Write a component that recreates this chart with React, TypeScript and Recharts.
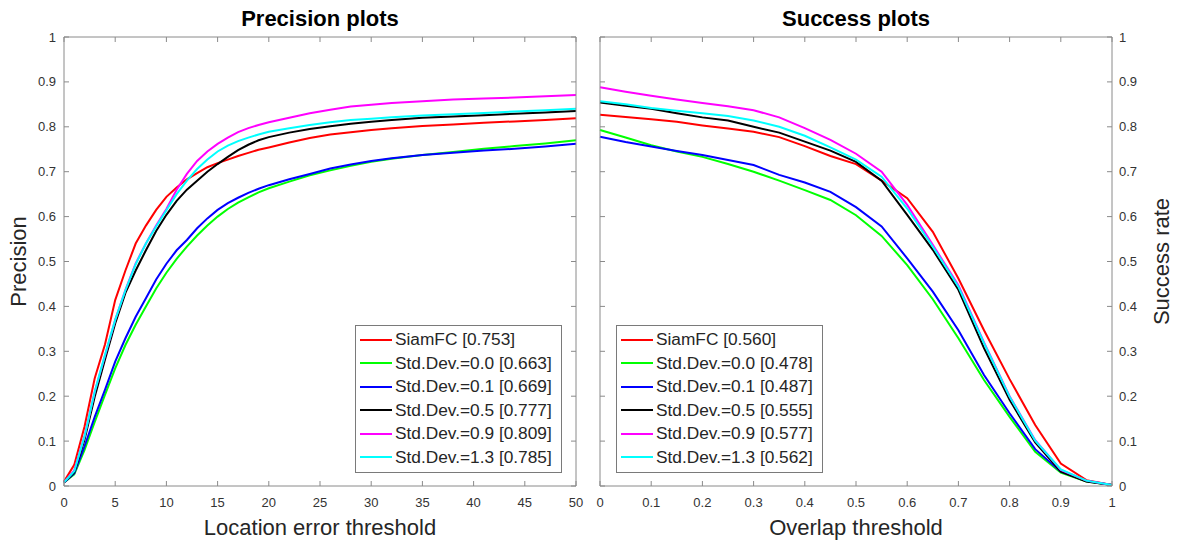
import { LineChart, Line, XAxis, YAxis, Legend, Label } from 'recharts';

const COLORS = ['#ff0000', '#00ff00', '#0000ff', '#000000', '#ff00ff', '#00ffff'];
const KEYS = ['siamfc', 'sd00', 'sd01', 'sd05', 'sd09', 'sd13'];

const PREC_NAMES = [
  'SiamFC [0.753]',
  'Std.Dev.=0.0 [0.663]',
  'Std.Dev.=0.1 [0.669]',
  'Std.Dev.=0.5 [0.777]',
  'Std.Dev.=0.9 [0.809]',
  'Std.Dev.=1.3 [0.785]',
];
const SUCC_NAMES = [
  'SiamFC [0.560]',
  'Std.Dev.=0.0 [0.478]',
  'Std.Dev.=0.1 [0.487]',
  'Std.Dev.=0.5 [0.555]',
  'Std.Dev.=0.9 [0.577]',
  'Std.Dev.=1.3 [0.562]',
];

// precision plot: location error threshold (px)
const PREC_X = [0, 1, 2, 3, 4, 5, 6, 7, 8, 9, 10, 11, 12, 13, 14, 15, 16, 17, 18, 19, 20, 22, 24, 26, 28, 30, 32, 35, 38, 41, 44, 47, 50];
const precSiamFC = [0.01, 0.047, 0.132, 0.24, 0.315, 0.414, 0.48, 0.54, 0.58, 0.615, 0.644, 0.665, 0.683, 0.697, 0.71, 0.719, 0.727, 0.735, 0.742, 0.749, 0.754, 0.765, 0.775, 0.783, 0.788, 0.793, 0.797, 0.802, 0.805, 0.809, 0.812, 0.815, 0.819];
const precSd00 = [0.008, 0.026, 0.08, 0.143, 0.203, 0.262, 0.314, 0.359, 0.4, 0.44, 0.475, 0.506, 0.533, 0.558, 0.58, 0.6, 0.617, 0.631, 0.643, 0.654, 0.663, 0.678, 0.692, 0.703, 0.713, 0.722, 0.729, 0.737, 0.744, 0.751, 0.757, 0.763, 0.77];
const precSd01 = [0.008, 0.028, 0.088, 0.154, 0.214, 0.277, 0.329, 0.377, 0.418, 0.46, 0.495, 0.525, 0.548, 0.574, 0.596, 0.615, 0.63, 0.642, 0.653, 0.662, 0.67, 0.683, 0.695, 0.707, 0.716, 0.724, 0.73, 0.737, 0.742, 0.747, 0.751, 0.756, 0.762];
const precSd05 = [0.008, 0.03, 0.103, 0.199, 0.281, 0.362, 0.43, 0.48, 0.525, 0.568, 0.604, 0.635, 0.66, 0.68, 0.7, 0.717, 0.733, 0.748, 0.76, 0.77, 0.777, 0.787, 0.795, 0.801, 0.807, 0.811, 0.815, 0.82, 0.823, 0.826, 0.829, 0.832, 0.835];
const precSd09 = [0.008, 0.035, 0.11, 0.21, 0.29, 0.37, 0.437, 0.496, 0.54, 0.58, 0.617, 0.66, 0.695, 0.724, 0.745, 0.762, 0.776, 0.788, 0.797, 0.804, 0.81, 0.82, 0.83, 0.838, 0.845, 0.849, 0.853, 0.857, 0.861, 0.863, 0.865, 0.868, 0.871];
const precSd13 = [0.008, 0.033, 0.11, 0.21, 0.292, 0.37, 0.436, 0.494, 0.54, 0.578, 0.614, 0.65, 0.68, 0.706, 0.727, 0.745, 0.758, 0.768, 0.776, 0.783, 0.789, 0.797, 0.804, 0.81, 0.815, 0.818, 0.821, 0.825, 0.828, 0.831, 0.834, 0.837, 0.84];

// success plot: overlap threshold
const SUCC_X = [0, 0.05, 0.1, 0.15, 0.2, 0.25, 0.3, 0.35, 0.4, 0.45, 0.5, 0.55, 0.6, 0.65, 0.7, 0.75, 0.8, 0.85, 0.9, 0.95, 1];
const succSiamFC = [0.827, 0.822, 0.817, 0.811, 0.803, 0.796, 0.789, 0.777, 0.757, 0.735, 0.717, 0.68, 0.641, 0.566, 0.462, 0.347, 0.238, 0.136, 0.05, 0.013, 0.002];
const succSd00 = [0.793, 0.776, 0.759, 0.745, 0.733, 0.717, 0.7, 0.68, 0.659, 0.637, 0.603, 0.557, 0.492, 0.416, 0.329, 0.236, 0.154, 0.076, 0.03, 0.01, 0.002];
const succSd01 = [0.778, 0.766, 0.756, 0.746, 0.737, 0.726, 0.715, 0.693, 0.676, 0.655, 0.621, 0.578, 0.507, 0.433, 0.347, 0.247, 0.162, 0.082, 0.032, 0.011, 0.002];
const succSd05 = [0.854, 0.847, 0.84, 0.83, 0.821, 0.814, 0.8, 0.787, 0.767, 0.747, 0.722, 0.68, 0.604, 0.526, 0.437, 0.307, 0.192, 0.097, 0.032, 0.01, 0.002];
const succSd09 = [0.888, 0.878, 0.869, 0.861, 0.853, 0.846, 0.837, 0.821, 0.797, 0.771, 0.74, 0.7, 0.626, 0.537, 0.447, 0.32, 0.2, 0.102, 0.036, 0.012, 0.002];
const succSd13 = [0.857, 0.85, 0.842, 0.836, 0.83, 0.824, 0.814, 0.8, 0.78, 0.754, 0.727, 0.689, 0.618, 0.533, 0.444, 0.318, 0.199, 0.101, 0.037, 0.012, 0.002];

const PREC_X_TICKS = [0, 5, 10, 15, 20, 25, 30, 35, 40, 45, 50];
const SUCC_X_TICKS = [0, 0.1, 0.2, 0.3, 0.4, 0.5, 0.6, 0.7, 0.8, 0.9, 1];
const Y_TICKS = [0, 0.1, 0.2, 0.3, 0.4, 0.5, 0.6, 0.7, 0.8, 0.9, 1];

const toRows = (xs: number[], series: number[][]) =>
  xs.map((x, i) => {
    const row: Record<string, number> = { x };
    series.forEach((s, k) => { row[KEYS[k]] = s[i]; });
    return row;
  });

const precData = toRows(PREC_X, [precSiamFC, precSd00, precSd01, precSd05, precSd09, precSd13]);
const succData = toRows(SUCC_X, [succSiamFC, succSd00, succSd01, succSd05, succSd09, succSd13]);

const AXIS = '#8a8a8a';
const TICK_TXT = '#333';
const FONT = '"Liberation Sans", Arial, sans-serif';

// MATLAB style inward ticks
const bottomTick = (props: any) => {
  const { x, y, payload } = props;
  return (
    <g>
      <line x1={x} y1={y} x2={x} y2={y - 5} stroke={AXIS} />
      <text x={x} y={y + 21} textAnchor="middle" fontSize={13} fill={TICK_TXT}>{String(payload.value)}</text>
    </g>
  );
};
const topTick = (props: any) => {
  const { x, y } = props;
  return <line x1={x} y1={y} x2={x} y2={y + 5} stroke={AXIS} />;
};
const leftTick = (withLabel: boolean) => (props: any) => {
  const { x, y, payload } = props;
  return (
    <g>
      <line x1={x} y1={y} x2={x + 5} y2={y} stroke={AXIS} />
      {withLabel && <text x={x - 8} y={y + 4.5} textAnchor="end" fontSize={13} fill={TICK_TXT}>{String(payload.value)}</text>}
    </g>
  );
};
const rightTick = (withLabel: boolean) => (props: any) => {
  const { x, y, payload } = props;
  return (
    <g>
      <line x1={x} y1={y} x2={x - 5} y2={y} stroke={AXIS} />
      {withLabel && <text x={x + 7} y={y + 4.5} textAnchor="start" fontSize={13} fill={TICK_TXT}>{String(payload.value)}</text>}
    </g>
  );
};

const legendBox = (props: any) => {
  const items = (props.payload || []).filter((p: any) => p.type !== 'none');
  return (
    <div style={{ border: '1px solid #7a7a7a', background: '#fff', padding: '2px 0 3px', width: 205, fontFamily: FONT }}>
      {items.map((p: any) => (
        <div key={p.value} style={{ display: 'flex', alignItems: 'center', height: 23.5 }}>
          <div style={{ marginLeft: 4, width: 32, borderTop: `2px solid ${p.color}` }} />
          <span style={{ marginLeft: 3, fontSize: 17.3, color: '#262626', whiteSpace: 'nowrap' }}>{p.value}</span>
        </div>
      ))}
    </div>
  );
};

function Panel(props: {
  data: Record<string, number>[];
  names: string[];
  xTicks: number[];
  xMax: number;
  title: string;
  xLabel: string;
  yLabel: string;
  yOnRight: boolean;
  left: number;
  width: number;
  legendLeft: number;
}) {
  const { data, names, xTicks, xMax, title, xLabel, yLabel, yOnRight, left, width, legendLeft } = props;
  const margin = yOnRight ? { top: 36, right: 4, bottom: 5, left: 9 } : { top: 36, right: 13, bottom: 5, left: 0 };
  return (
    <div style={{ position: 'absolute', left, top: 0 }}>
      <LineChart width={width} height={541} data={data} margin={margin}>
        <XAxis xAxisId="b" dataKey="x" type="number" domain={[0, xMax]} ticks={xTicks} interval={0}
          stroke={AXIS} tickLine={false} tickSize={0} tickMargin={0} height={50} tick={bottomTick}>
          <Label value={xLabel} position="insideBottom" offset={1} fontSize={22} fill="#262626" />
        </XAxis>
        <XAxis xAxisId="t" dataKey="x" type="number" orientation="top" domain={[0, xMax]} ticks={xTicks} interval={0}
          stroke={AXIS} tickLine={false} tickSize={0} tickMargin={0} height={1} tick={topTick}>
          <Label value={title} position="top" offset={10} fontSize={22} fontWeight="bold" fill="#000" />
        </XAxis>
        <YAxis yAxisId="l" type="number" domain={[0, 1]} ticks={Y_TICKS} interval={0} stroke={AXIS}
          tickLine={false} tickSize={0} tickMargin={0} width={yOnRight ? 1 : 64} tick={leftTick(!yOnRight)}>
          {!yOnRight && (
            <Label value={yLabel} angle={-90} position="insideLeft" offset={18} fontSize={22} fill="#262626"
              style={{ textAnchor: 'middle' }} />
          )}
        </YAxis>
        <YAxis yAxisId="r" orientation="right" type="number" domain={[0, 1]} ticks={Y_TICKS} interval={0} stroke={AXIS}
          tickLine={false} tickSize={0} tickMargin={0} width={yOnRight ? 62 : 1} tick={rightTick(yOnRight)}>
          {yOnRight && (
            <Label value={yLabel} angle={-90} position="insideRight" offset={13} fontSize={22} fill="#262626"
              style={{ textAnchor: 'middle' }} />
          )}
        </YAxis>
        {KEYS.map((k, i) => (
          <Line key={k} xAxisId="b" yAxisId="l" type="linear" dataKey={k} name={names[i]} stroke={COLORS[i]}
            strokeWidth={2} dot={false} activeDot={false} isAnimationActive={false} />
        ))}
        <Line xAxisId="t" yAxisId="r" type="linear" dataKey={KEYS[0]} stroke="none" dot={false}
          legendType="none" isAnimationActive={false} />
        <Legend layout="vertical" align="center" verticalAlign="middle" content={legendBox}
          wrapperStyle={{ left: legendLeft, top: 325, width: 207, height: 148 }} />
      </LineChart>
    </div>
  );
}

export default function App() {
  return (
    <div style={{ position: 'absolute', left: 0, top: 0, width: 1178, height: 541, background: '#fff', fontFamily: FONT }}>
      <Panel data={precData} names={PREC_NAMES} xTicks={PREC_X_TICKS} xMax={50} title="Precision plots"
        xLabel="Location error threshold" yLabel="Precision" yOnRight={false} left={0} width={590} legendLeft={355} />
      <Panel data={succData} names={SUCC_NAMES} xTicks={SUCC_X_TICKS} xMax={1} title="Success plots"
        xLabel="Overlap threshold" yLabel="Success rate" yOnRight={true} left={590} width={588} legendLeft={26} />
    </div>
  );
}
